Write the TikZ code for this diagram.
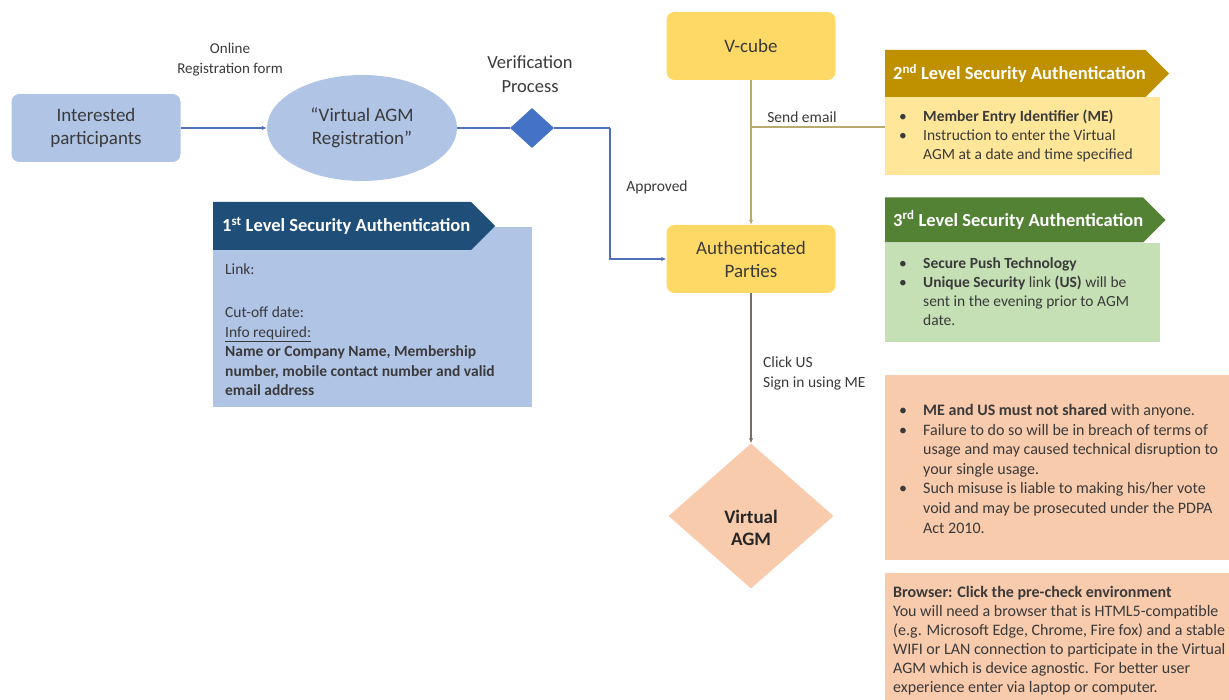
\documentclass[tikz,border=0pt]{standalone}
\usepackage{fontspec}
\setmainfont{Carlito}
\usetikzlibrary{positioning,shapes.geometric,shapes.symbols,arrows.meta}

\definecolor{lblue}{HTML}{B0C4E6}
\definecolor{navy}{HTML}{1F4E79}
\definecolor{dblue}{HTML}{4472C4}
\definecolor{bline}{HTML}{5070BE}
\definecolor{vyellow}{HTML}{FFD966}
\definecolor{gold}{HTML}{BF9000}
\definecolor{lyellow}{HTML}{FFE699}
\definecolor{dgreen}{HTML}{548235}
\definecolor{lgreen}{HTML}{C5E0B4}
\definecolor{peach}{HTML}{F8CBAD}
\definecolor{oline}{HTML}{B8AA6C}
\definecolor{gline}{HTML}{7A6E64}
\definecolor{txt}{HTML}{3A3A3A}

\newcommand{\bul}{\makebox[24pt][l]{\textbullet}}
\newcommand{\bulind}{\hspace*{24pt}}

\begin{document}
\begin{tikzpicture}[x=1pt,y=-1pt,
  lbl/.style={font=\fontsize{19}{23}\selectfont, text=txt, align=center},
  smalllbl/.style={font=\fontsize{15.5}{19.5}\selectfont, text=txt, align=left},
  rbox/.style={rectangle, rounded corners=8pt, minimum width=169pt, minimum height=68pt, lbl},
  hdr/.style={signal, signal to=east, signal pointer angle=90, text=white,
    font=\bfseries\fontsize{18.5}{20}\selectfont, anchor=west, inner sep=0pt,
    execute at begin node=\hspace*{8pt}},
  panel/.style={rectangle, anchor=north west, inner sep=0pt},
  bodytxt/.style={anchor=north west, inner sep=0pt, align=left, text=txt,
    font=\fontsize{15.5}{19.5}\selectfont, execute at begin node=\strut},
  conn/.style={line width=1.3pt},
  tip/.style={-{Latex[length=5pt,width=4.5pt]}}
]
\useasboundingbox (0,0) rectangle (1229,700);

% registration
\node (inter) [rbox, fill=lblue] at (96,128) {Interested\\participants};
\node (reg) [ellipse, fill=lblue, minimum width=190pt, minimum height=106pt, lbl] at (362,128) {“Virtual AGM\\Registration”};
\node (onl) [font=\fontsize{15}{20}\selectfont, text=txt, align=center] at (230,60) {Online\\Registration form};
\node (verif) [diamond, fill=dblue, minimum width=44pt, minimum height=40pt, inner sep=0pt] at (532,128) {};
\node (veriflbl) [lbl, font=\fontsize{18.5}{24}\selectfont] at (530,74) {Verification\\Process};
\coordinate (turn) at (610,128);

% first level
\node (body1) [panel, fill=lblue, minimum width=319pt, minimum height=180pt] at (213,227) {};
\node (hdr1) [hdr, fill=navy, minimum width=282pt, minimum height=48pt] at (213,226) {1\textsuperscript{st} Level Security Authentication};
\node (txt1) [bodytxt] at (225,264) {Link:\\[4pt]
  \mbox{}\\
  Cut-off date:\\
  \underline{Info required:}\\
  \textbf{Name or Company Name, Membership}\\
  \textbf{number, mobile contact number and valid}\\
  \textbf{email address}};

% v-cube and parties
\node (vcube) [rbox, fill=vyellow] at (751,46) {V-cube};
\node (auth) [rbox, fill=vyellow] at (751,259) {Authenticated\\Parties};
\coordinate (branch) at (751,127);
\node (vagm) [diamond, fill=peach, minimum width=165pt, minimum height=145pt, lbl, font=\bfseries\fontsize{19}{22}\selectfont, text=black!85] at (751,516) {\mbox{}\\[16pt]Virtual\\AGM};

\node (sendlbl) [smalllbl] at (802,117) {Send email};
\node (applbl) [smalllbl] at (657,187) {Approved};
\node (clicklbl) [bodytxt] at (763,357) {Click US\\Sign in using ME};

% second level
\node (body2) [panel, fill=lyellow, minimum width=275pt, minimum height=78pt] at (885,97) {};
\node (hdr2) [hdr, fill=gold, minimum width=280pt, minimum height=47pt] at (885,73.5) {2\textsuperscript{nd} Level Security Authentication};
\node (txt2) [bodytxt, font=\fontsize{15.5}{19}\selectfont] at (899,110) {\bul\textbf{Member Entry Identifier (ME)}\\
  \bul Instruction to enter the Virtual\\
  \bulind AGM at a date and time specified};

% third level
\node (body3) [panel, fill=lgreen, minimum width=275pt, minimum height=99pt] at (885,243) {};
\node (hdr3) [hdr, fill=dgreen, minimum width=280pt, minimum height=45pt] at (885,220) {3\textsuperscript{rd} Level Security Authentication};
\node (txt3) [bodytxt, font=\fontsize{15.5}{19}\selectfont] at (899,257) {\bul\textbf{Secure Push Technology}\\
  \bul\textbf{Unique Security} link \textbf{(US)} will be\\
  \bulind sent in the evening prior to AGM\\
  \bulind date.};

% warnings
\node (warn) [panel, fill=peach, minimum width=350pt, minimum height=185pt] at (885,375) {};
\node (warntxt) [bodytxt, font=\fontsize{16}{19.6}\selectfont] at (899,404) {\bul\textbf{ME and US must not shared} with anyone.\\
  \bul Failure to do so will be in breach of terms of\\
  \bulind usage and may caused technical disruption to\\
  \bulind your single usage.\\
  \bul Such misuse is liable to making his/her vote\\
  \bulind void and may be prosecuted under the PDPA\\
  \bulind Act 2010.};
\node (brows) [panel, fill=peach, minimum width=350pt, minimum height=140pt] at (885,573) {};
\node (browstxt) [bodytxt, font=\fontsize{16}{19}\selectfont] at (893,586) {\textbf{Browser: Click the pre-check environment}\\
  You will need a browser that is HTML5-compatible\\
  (e.g. Microsoft Edge, Chrome, Fire fox) and a stable\\
  WIFI or LAN connection to participate in the Virtual\\
  AGM which is device agnostic. For better user\\
  experience enter via laptop or computer.};

% connectors
\draw[conn, draw=bline, tip] (inter) -- (reg);
\draw[conn, draw=bline] (reg) -- (verif) -- (turn);
\draw[conn, draw=bline, tip] (turn) |- (auth);
\draw[conn, draw=oline, tip] (vcube) -- (auth);
\draw[conn, draw=oline] (branch) -- (branch -| body2.west);
\draw[conn, draw=gline, tip] (auth) -- (vagm);
\end{tikzpicture}
\end{document}
